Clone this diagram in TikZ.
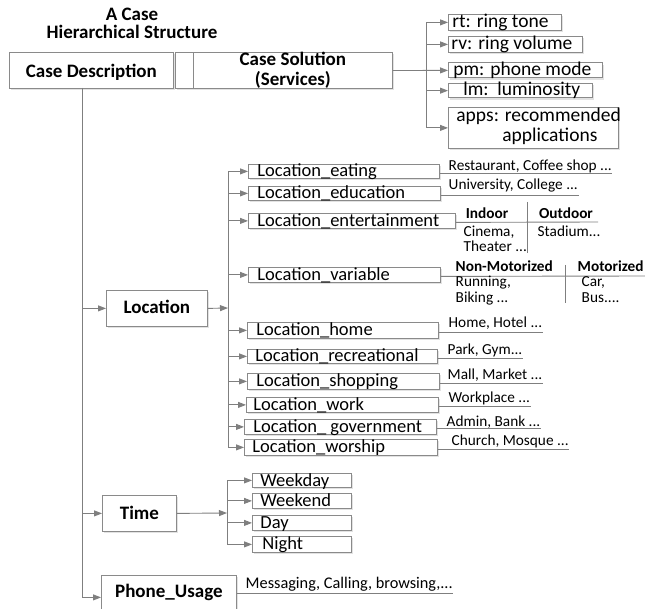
\documentclass[tikz,border=0pt]{standalone}
\usepackage{fontspec}
\setmainfont{Carlito}
\usetikzlibrary{arrows.meta,shadows,calc}
\definecolor{linegray}{HTML}{7F7F7F}
\definecolor{boxgray}{HTML}{8A8A8A}
\definecolor{shadegray}{HTML}{E2E2E2}
% fixed-width, left-aligned box content with a left padding
\newcommand\padded[3]{\makebox[#1pt][l]{\hspace*{#2pt}#3}}

\begin{document}
\begin{tikzpicture}[x=1pt,y=-1pt,
  conn/.style={draw=linegray, line width=0.9pt},
  arr/.style={conn, -{Triangle[length=8pt,width=6pt]}},
  frame/.style={draw=boxgray, line width=0.8pt, fill=white, inner sep=0pt,
    anchor=north west, rectangle,
    drop shadow={shadow xshift=1.8pt, shadow yshift=-1.8pt, fill=shadegray, opacity=1}},
  head/.style={frame, font=\bfseries\fontsize{19}{20}\selectfont, align=center},
  leaf/.style 2 args={frame, font=\fontsize{18.5}{19}\selectfont, text height=#1pt, text depth=#2pt},
  svc/.style 2 args={frame, font=\fontsize{19.5}{20}\selectfont, text height=#1pt, text depth=#2pt},
  note/.style={font=\fontsize{15.3}{15.3}\selectfont, inner sep=0.5pt, anchor=base west},
  notebold/.style={note, font=\bfseries\fontsize{15.3}{15.3}\selectfont},
]
\useasboundingbox (0,0) rectangle (645,609);

% ---------- title and top-level cases ----------
\node[font=\bfseries\fontsize{19}{18}\selectfont, align=center, anchor=north, inner sep=0pt]
  (title) at (132,8) {A Case\\Hierarchical Structure};

\node[head, minimum width=164pt, text height=25pt, text depth=11pt] (desc) at (9,52) {Case Description};
\node[frame, minimum width=18pt, minimum height=36pt] (gap) at (175,52) {};
\node[head, minimum width=199pt, minimum height=36pt] (sol) at (193,52) {Case Solution\\(Services)};

% ---------- services ----------
\node[svc={12.7}{3.3}] (rt) at (448,14) {\padded{113}{4}{rt: ring tone}};
\node[svc={12.7}{3.3}] (rv) at (448,36) {\padded{134}{3}{rv: ring volume}};
\node[svc={12.5}{2.5}] (pm) at (448,62.5) {\padded{154}{5}{pm: phone mode}};
\node[svc={12}{2.5}] (lm) at (448,83) {\padded{144}{15}{lm:\ \ luminosity}};
\node[frame, font=\fontsize{19.5}{20}\selectfont, minimum height=41pt] (apps) at (448,107)
  {\padded{170}{8}{\begin{tabular}{@{}l@{}}apps: recommended\\\hspace*{46pt}applications\end{tabular}}};

\coordinate (sbus) at (426,70);
\draw[conn] (sbus |- rt.west) -- (sbus |- apps.west);
\draw[arr] (sol.east) -- (pm.west);
\foreach \s in {rt,rv,lm,apps} \draw[arr] (sbus |- \s.west) -- (\s.west);

% ---------- description trunk ----------
\coordinate (trunk) at (82,88);
\node[head, minimum width=101pt, text height=23.3pt, text depth=12.7pt] (loc) at (106,290) {Location};
\node[head, minimum width=74pt, text height=24.3pt, text depth=11.7pt] (time) at (102,495) {Time};
\node[head, minimum width=135pt, text height=22pt, text depth=22pt] (phone) at (101,575) {Phone\_Usage};

\draw[arr] (trunk) |- (phone.west);
\draw[arr] (trunk |- loc.west) -- (loc.west);
\draw[arr] (trunk |- time.west) -- (time.west);

% ---------- location kinds ----------
\node[leaf={12.3}{1.7}] (eat)  at (248,164) {\padded{191}{9}{Location\_eating}};
\node[leaf={12.3}{1.7}] (edu)  at (248,186) {\padded{192}{9}{Location\_education}};
\node[leaf={12.8}{2.2}] (ent)  at (248,213) {\padded{207}{9}{Location\_entertainment}};
\node[leaf={12.8}{2.2}] (var)  at (248,267) {\padded{192}{9}{Location\_variable}};
\node[leaf={13.5}{2.5}] (home) at (247,322) {\padded{191}{9}{Location\_home}};
\node[leaf={12.3}{1.7}] (rec)  at (247,349) {\padded{190}{8}{Location\_recreational}};
\node[leaf={13.5}{2.5}] (shop) at (247,373) {\padded{192}{9}{Location\_shopping}};
\node[leaf={12.8}{2.2}] (work) at (246,397) {\padded{192}{7}{Location\_work}};
\node[leaf={12.8}{2.2}] (gov)  at (244,419) {\padded{192}{9}{Location\_ government}};
\node[leaf={13.5}{2.5}] (wor)  at (244,439) {\padded{193}{8}{Location\_worship}};

\coordinate (lbus) at (228,308);
\draw[conn] (lbus |- eat.west) -- (lbus |- wor.west);
\draw[arr] (loc.east) -- (lbus);
\foreach \s in {eat,edu,ent,var,home,rec,shop,work,gov,wor} \draw[arr] (lbus |- \s.west) -- (\s.west);

% examples written on a leader line
\node[note] (eatn)  at (448,170.5) {Restaurant, Coffee shop ...};
\node[note] (edun)  at (448,190)   {University, College ...};
\node[note] (homen) at (448,328)   {Home, Hotel ...};
\node[note] (recn)  at (447,355)   {Park, Gym...};
\node[note] (shopn) at (447,379.5) {Mall, Market ...};
\node[note] (workn) at (448,402)   {Workplace ...};
\node[note] (govn)  at (446,426)   {Admin, Bank ...};
\node[note] (worn)  at (451,445)   {Church, Mosque ...};
\foreach \s in {eat,edu,home,rec,shop,work,gov,wor}
  \draw[conn] ($(\s.east)+(0,2)$) -- ($(\s.east -| \s n.east)+(0,2)$);

% entertainment: indoor / outdoor
\coordinate (entend) at (598,222);
\draw[conn] ($(ent.east)+(0,1.5)$) -- (entend);
\coordinate (entdivtop) at (527,202);
\coordinate (entdivbot) at (527,253);
\draw[conn, line width=0.6pt] (entdivtop) -- (entdivbot);
\node[notebold, anchor=base] (indoor)  at (487,219) {Indoor};
\node[notebold, anchor=base] (outdoor) at (566,219) {Outdoor};
\node[note] (cinema)  at (463,237) {Cinema,};
\node[note] (theater) at (463,252) {Theater ...};
\node[note] (stadium) at (537,237) {Stadium...};

% variable: non-motorized / motorized
\coordinate (varend) at (645,276);
\draw[conn] ($(var.east)+(0,1.5)$) -- (varend);
\coordinate (vardivtop) at (565,265);
\coordinate (vardivbot) at (565,303);
\draw[conn, line width=0.6pt] (vardivtop) -- (vardivbot);
\node[notebold] (nonmot) at (455,272) {Non-Motorized};
\node[notebold] (mot)    at (577,272) {Motorized};
\node[note] (running) at (455,287) {Running,};
\node[note] (biking)  at (455,303) {Biking ...};
\node[note] (car)     at (581,287) {Car,};
\node[note] (bus)     at (581,303) {Bus....};

% ---------- time kinds ----------
\node[leaf={12.7}{1.3}] (wkd)   at (252,473) {\padded{99}{8}{Weekday}};
\node[leaf={12.8}{2.2}] (wke)   at (252,493) {\padded{99}{8}{Weekend}};
\node[leaf={12.8}{2.2}] (day)   at (252,515) {\padded{99}{8}{Day}};
\node[leaf={13.5}{2.5}] (night) at (252,536) {\padded{99}{10}{Night}};

\coordinate (tbus) at (227,513);
\draw[conn] (tbus |- wkd.west) -- (tbus |- night.west);
\draw[arr] (time.east) -- (tbus);
\foreach \s in {wkd,wke,day,night} \draw[arr] (tbus |- \s.west) -- (\s.west);

% ---------- phone usage ----------
\node[note, font=\fontsize{16.3}{16.3}\selectfont] (msgn) at (245,588) {Messaging, Calling, browsing,...};
\draw[conn] ($(phone.north east)+(0,18)$) -- ($(phone.north east -| msgn.east)+(0,18)$);
\end{tikzpicture}
\end{document}
